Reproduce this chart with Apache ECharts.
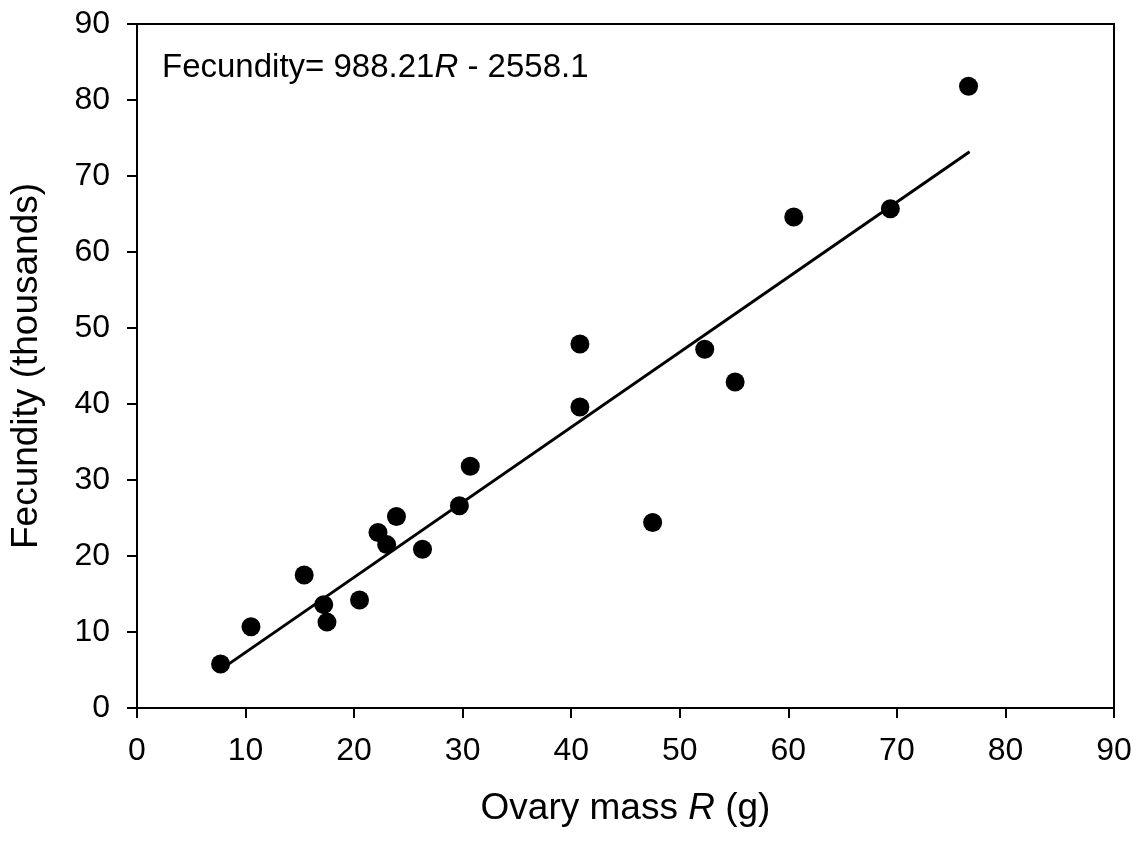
<!DOCTYPE html>
<html>
<head>
<meta charset="utf-8">
<script src="https://cdn.jsdelivr.net/npm/echarts@6/dist/echarts.min.js"></script>
<style>
html,body{margin:0;padding:0;background:#fff;}
#chart{width:1144px;height:842px;}
</style>
</head>
<body>
<div id="chart"></div>
<script>
// Data
var ovaryMass = [7.7, 10.5, 15.4, 17.2, 17.5, 20.5, 22.2, 23.0, 23.9, 26.3, 29.7, 30.7, 40.8, 40.8, 47.5, 52.3, 55.1, 60.5, 69.4, 76.6];
var fecundity = [5.8, 10.7, 17.5, 13.6, 11.3, 14.2, 23.1, 21.5, 25.2, 20.9, 26.6, 31.8, 47.9, 39.6, 24.4, 47.2, 42.9, 64.6, 65.7, 81.8];
var fitX = [7.7, 76.7];
var fitY = [5.05, 73.2];
var equationText = 'Fecundity= 988.21{i|R} - 2558.1';
var xTitle = 'Ovary mass {i|R} (g)';
var yTitle = 'Fecundity (thousands)';

var font = 'Liberation Sans, Arial, sans-serif';
var chart = echarts.init(document.getElementById('chart'), null, {renderer: 'canvas'});

var points = ovaryMass.map(function (x, i) { return [x, fecundity[i]]; });
var fitLine = fitX.map(function (x, i) { return [x, fitY[i]]; });

var axisCommon = {
  type: 'value', min: 0, max: 90, interval: 10,
  axisLine: {show: true, onZero: false, lineStyle: {color: '#000', width: 2}},
  axisTick: {show: true, inside: false, length: 10, lineStyle: {color: '#000', width: 2}},
  splitLine: {show: false},
  axisLabel: {color: '#000', fontSize: 32, fontFamily: font, margin: 27},
  nameLocation: 'middle',
  nameTextStyle: {color: '#000', fontSize: 37, fontFamily: font,
    rich: {i: {fontStyle: 'italic', fontSize: 37, fontFamily: font, color: '#000'}}}
};

chart.setOption({
  animation: false,
  backgroundColor: '#fff',
  grid: {left: 136, right: 30, top: 24, bottom: 134, show: true, borderColor: '#000', borderWidth: 2, containLabel: false},
  xAxis: Object.assign({}, axisCommon, {name: xTitle, nameGap: 82}),
  yAxis: Object.assign({}, axisCommon, {name: yTitle, nameGap: 92, nameRotate: 90}),
  graphic: [{
    type: 'text', left: 162, top: 51,
    style: {
      text: equationText, fill: '#000', fontSize: 33, fontFamily: font,
      rich: {i: {fontStyle: 'italic', fontSize: 33, fontFamily: font, fill: '#000', color: '#000'}}
    }
  }],
  series: [
    {
      type: 'line', data: fitLine, showSymbol: false, symbol: 'none',
      lineStyle: {color: '#000', width: 3}, z: 2, silent: true
    },
    {
      type: 'scatter', data: points, symbol: 'circle', symbolSize: 19,
      itemStyle: {color: '#000', opacity: 1}, z: 3
    }
  ]
});
</script>
</body>
</html>
